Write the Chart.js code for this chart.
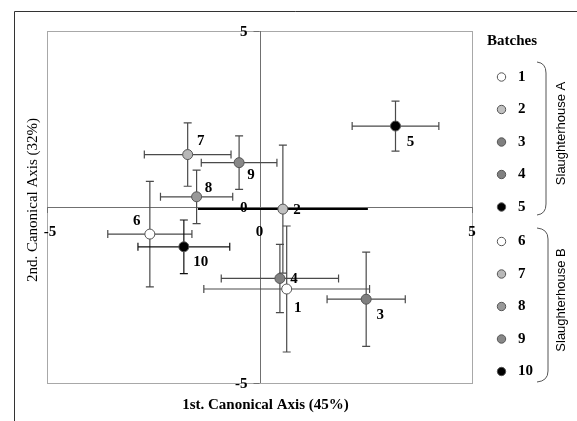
<!DOCTYPE html>
<html>
<head>
<meta charset="utf-8">
<script src="https://cdn.jsdelivr.net/npm/chart.js@4.4.0/dist/chart.umd.min.js"></script>
<style>
  html, body { margin: 0; padding: 0; background: #fff; }
  canvas { display: block; }
</style>
</head>
<body>
<canvas id="chart" width="577" height="421"></canvas>
<script>
// batch means on the two canonical axes, with their error spans
var batches = ['1', '2', '3', '4', '5', '6', '7', '8', '9', '10'];
var axis1 = [0.64, 0.55, 2.51, 0.48, 3.20, -2.58, -1.69, -1.48, -0.48, -1.78];
var axis2 = [-2.33, -0.06, -2.62, -2.03, 2.30, -0.77, 1.49, 0.29, 1.26, -1.13];
var err1 = [1.95, 2.00, 0.92, 1.38, 1.02, 0.99, 1.02, 0.85, 0.89, 1.08];
var err2 = [1.79, 1.82, 1.34, 0.97, 0.71, 1.50, 0.90, 0.76, 0.76, 0.76];
var tickValues = [-5, 0, 5];
var groups = ['Slaughterhouse A', 'Slaughterhouse B'];

var fills = ['#ffffff', '#c0c0c0', '#808080', '#808080', '#000000',
             '#ffffff', '#b8b8b8', '#999999', '#888888', '#000000'];
// where each batch number sits relative to its point (px)
var labelShift = [[11, 19], [14, 1], [14, 16], [14, 1], [15, 16],
                  [-13, -13], [13, -13], [12, -9], [12, 12], [17, 15]];

var serif = "'Liberation Serif', 'Times New Roman', serif";
var sans = "'Liberation Sans', Arial, sans-serif";

var decor = {
  id: 'decor',
  beforeDatasetsDraw: function (chart) {
    var c = chart.ctx, a = chart.chartArea;
    var sx = chart.scales.x, sy = chart.scales.y;
    var ox = sx.getPixelForValue(0), oy = sy.getPixelForValue(0);
    c.save();
    // plot frame
    c.strokeStyle = '#a8a8a8';
    c.lineWidth = 1;
    c.strokeRect(a.left + 0.5, a.top + 0.5, a.right - a.left, a.bottom - a.top);
    // axes through the origin
    c.strokeStyle = '#707070';
    c.beginPath();
    c.moveTo(Math.round(ox) + 0.5, a.top); c.lineTo(Math.round(ox) + 0.5, a.bottom);
    c.moveTo(a.left, Math.round(oy) + 0.5); c.lineTo(a.right, Math.round(oy) + 0.5);
    c.stroke();
    // ticks and tick labels
    c.fillStyle = '#000';
    c.font = 'bold 15px ' + serif;
    tickValues.forEach(function (v) {
      var py = sy.getPixelForValue(v), px = sx.getPixelForValue(v);
      c.beginPath();
      c.moveTo(ox - 6, Math.round(py) + 0.5); c.lineTo(ox, Math.round(py) + 0.5);
      c.moveTo(Math.round(px) + 0.5, oy); c.lineTo(Math.round(px) + 0.5, oy + 6);
      c.stroke();
      c.textAlign = 'right'; c.textBaseline = 'middle';
      c.fillText(String(v), ox - 12, py + 1);
      c.textAlign = 'center';
      c.fillText(String(v), px + (v < 0 ? 3 : 0), oy + 25);
    });
    // error bars
    for (var i = 0; i < batches.length; i++) {
      var cx = sx.getPixelForValue(axis1[i]), cy = sy.getPixelForValue(axis2[i]);
      var x0 = sx.getPixelForValue(axis1[i] - err1[i]), x1 = sx.getPixelForValue(axis1[i] + err1[i]);
      var y0 = sy.getPixelForValue(axis2[i] + err2[i]), y1 = sy.getPixelForValue(axis2[i] - err2[i]);
      var dark = i === 9;
      c.strokeStyle = dark ? '#111' : '#4a4a4a';
      c.lineWidth = 1.2;
      c.beginPath();
      c.moveTo(cx, y0); c.lineTo(cx, y1);
      c.moveTo(cx - 4, y0); c.lineTo(cx + 4, y0);
      c.moveTo(cx - 4, y1); c.lineTo(cx + 4, y1);
      c.stroke();
      c.beginPath();
      if (i === 1) { c.strokeStyle = '#000'; c.lineWidth = 2; }
      c.moveTo(x0, cy); c.lineTo(x1, cy);
      if (i !== 1) {
        c.moveTo(x0, cy - 4); c.lineTo(x0, cy + 4);
        c.moveTo(x1, cy - 4); c.lineTo(x1, cy + 4);
      }
      c.stroke();
    }
    c.restore();
  },
  afterDatasetsDraw: function (chart) {
    var c = chart.ctx, a = chart.chartArea;
    var sx = chart.scales.x, sy = chart.scales.y;
    c.save();
    c.fillStyle = '#000';
    c.font = 'bold 15px ' + serif;
    c.textAlign = 'center'; c.textBaseline = 'middle';
    for (var i = 0; i < batches.length; i++) {
      c.fillText(batches[i], sx.getPixelForValue(axis1[i]) + labelShift[i][0],
        sy.getPixelForValue(axis2[i]) + labelShift[i][1]);
    }
    // axis titles
    c.fillText('1st. Canonical Axis (45%)', (a.left + a.right) / 2 + 6, 405);
    c.save();
    c.translate(33, 200);
    c.rotate(-Math.PI / 2);
    c.font = '15px ' + serif;
    c.fillText('2nd. Canonical Axis (32%)', 0, 0);
    c.restore();
    // outer frame
    c.strokeStyle = '#333';
    c.lineWidth = 1;
    c.beginPath();
    c.moveTo(14.5, 421); c.lineTo(14.5, 11.5); c.lineTo(577, 11.5);
    c.stroke();
    // legend
    c.fillText('Batches', 512, 41);
    c.textAlign = 'left';
    for (var j = 0; j < batches.length; j++) {
      var ly = 77 + j * 32.5 + (j >= 5 ? 2 : 0);
      c.beginPath();
      c.arc(501.5, ly, 4.2, 0, Math.PI * 2);
      c.fillStyle = fills[j];
      c.fill();
      c.strokeStyle = '#555';
      c.stroke();
      c.fillStyle = '#000';
      c.fillText(batches[j], 518, ly);
    }
    // group brackets
    c.strokeStyle = '#555';
    [[62, 215, 546], [228, 382, 548]].forEach(function (b, k) {
      c.beginPath();
      c.moveTo(537, b[0]);
      c.quadraticCurveTo(b[2], b[0] + 1, b[2], b[0] + 11);
      c.lineTo(b[2], b[1] - 11);
      c.quadraticCurveTo(b[2], b[1] - 1, 537, b[1]);
      c.stroke();
      c.save();
      c.translate(561, (b[0] + b[1]) / 2 - 5);
      c.rotate(-Math.PI / 2);
      c.textAlign = 'center';
      c.font = '13px ' + sans;
      c.fillStyle = '#000';
      c.fillText(groups[k], 0, 0);
      c.restore();
    });
    c.restore();
  }
};

new Chart(document.getElementById('chart'), {
  type: 'scatter',
  data: {
    datasets: [{
      data: batches.map(function (b, i) { return { x: axis1[i], y: axis2[i] }; }),
      pointBackgroundColor: fills,
      pointBorderColor: '#555',
      pointBorderWidth: 1,
      pointRadius: 5,
    }],
  },
  options: {
    responsive: false,
    animation: false,
    layout: { padding: { left: 47, top: 31, right: 105, bottom: 38 } },
    plugins: { legend: { display: false }, tooltip: { enabled: false } },
    scales: {
      x: { display: false, min: -5, max: 5 },
      y: { display: false, min: -5, max: 5 },
    },
  },
  plugins: [decor],
});
</script>
</body>
</html>
